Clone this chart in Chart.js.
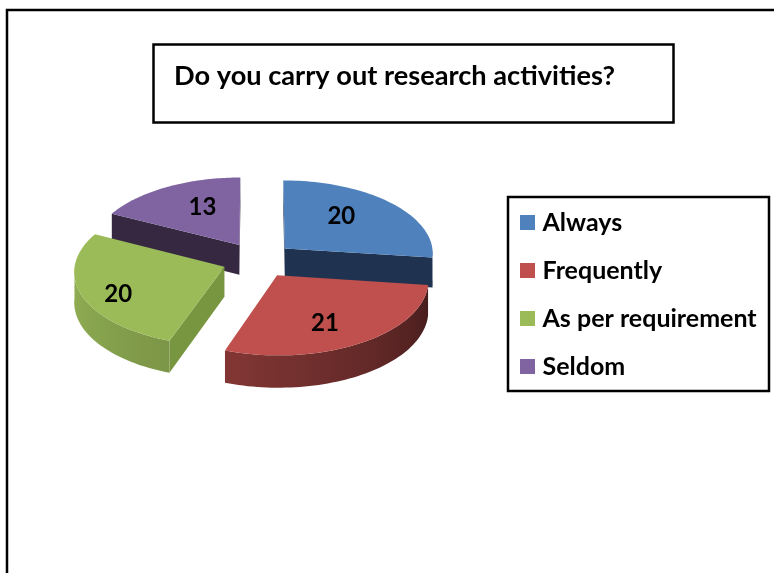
<!DOCTYPE html>
<html>
<head>
<meta charset="utf-8">
<title>Do you carry out research activities?</title>
<script src="https://cdn.jsdelivr.net/npm/chart.js@4"></script>
<style>
    html, body { margin: 0; padding: 0; background: #fff; }
    #wrap { position: relative; width: 774px; height: 573px; overflow: hidden; }
</style>
</head>
<body>
<div id="wrap"><canvas id="pie-chart" width="774" height="573"></canvas></div>
<script>
const categories = ['Always', 'Frequently', 'As per requirement', 'Seldom'];
const responses = [20, 21, 20, 13];
const chartTitle = 'Do you carry out research activities?';

const topColors = ['#4f81bd', '#c0504d', '#9bbb59', '#8064a2'];
const radialWallColors = ['#1f3350', '#7d3230', '#78953f', '#362840'];
// rim brightness at the start and end angle of each slice
const rimShades = [[0.4, 0.4], [0.36, 0.68], [0.8, 1], [0.42, 0.42]];

// where the pie sits on the page and how it is tilted
const PIE = { cx: 258, cy: 260, squash: 0.4925, perspective: 0.06, depth: 30 };
// Excel does not put the numbers on the slice bisector, so nudge them
const labelNudge = [[-13, -2], [-6, 5], [-14, 9], [11, 1]];
const FONT = 'Lato, Carlito, "Open Sans", sans-serif';

// plane coords (u right, v towards the viewer) to screen
function project(u, v, R, drop = 0) {
    const s = 1 / (1 - PIE.perspective * v / R);
    return { x: PIE.cx + u * s, y: PIE.cy + v * PIE.squash * s + drop * s };
}

function planePoint(angle, r, off, mid) {
    return {
        u: Math.cos(mid) * off + Math.cos(angle) * r,
        v: Math.sin(mid) * off + Math.sin(angle) * r
    };
}

function shade(hex, f) {
    const n = parseInt(hex.slice(1), 16);
    const c = [n >> 16, (n >> 8) & 255, n & 255].map(ch => Math.round(ch * f));
    return `rgb(${c[0]},${c[1]},${c[2]})`;
}

function fillPoly(ctx, pts, color) {
    ctx.beginPath();
    pts.forEach((p, n) => n ? ctx.lineTo(p.x, p.y) : ctx.moveTo(p.x, p.y));
    ctx.closePath();
    ctx.fillStyle = color;
    ctx.fill();
}

function drawSlice(ctx, arc, i) {
    const R = arc.outerRadius;
    const off = arc.options.offset / 4;
    const mid = (arc.startAngle + arc.endAngle) / 2;
    const steps = 60;
    const rim = [];
    for (let k = 0; k <= steps; k++) {
        const a = arc.startAngle + (arc.endAngle - arc.startAngle) * k / steps;
        const p = planePoint(a, R, off, mid);
        rim.push({ a, t: k / steps, top: project(p.u, p.v, R), low: project(p.u, p.v, R, PIE.depth) });
    }
    const c = planePoint(mid, 0, off, mid);
    const apexTop = project(c.u, c.v, R);
    const apexLow = project(c.u, c.v, R, PIE.depth);
    const inner = rim[steps / 2].top;

    // radial walls, only the ones turned to the viewer
    [rim[0], rim[steps]].forEach(e => {
        const ex = e.top.x - apexTop.x, ey = e.top.y - apexTop.y;
        const side = ex * (inner.y - apexTop.y) - ey * (inner.x - apexTop.x);
        if (side * ex < 0) {
            fillPoly(ctx, [apexTop, e.top, e.low, apexLow], radialWallColors[i]);
        }
    });

    // outer wall, one polygon with a left to right gradient
    const front = rim.filter(p => Math.sin(p.a) > 0);
    if (front.length > 1) {
        const xs = front.map(p => p.top.x);
        const x0 = Math.min(...xs), x1 = Math.max(...xs);
        const grad = ctx.createLinearGradient(x0, 0, x1, 0);
        front.forEach((p, n) => {
            if (n % 6 === 0 || n === front.length - 1) {
                const f = rimShades[i][0] + (rimShades[i][1] - rimShades[i][0]) * p.t;
                grad.addColorStop((p.top.x - x0) / (x1 - x0), shade(topColors[i], f));
            }
        });
        fillPoly(ctx, front.map(p => p.top).concat(front.map(p => p.low).reverse()), grad);
    }

    // top face
    fillPoly(ctx, [apexTop].concat(rim.map(p => p.top)), topColors[i]);
}

const pie3d = {
    id: 'pie3d',
    afterLayout(chart) {
        // title and legend live inside their own boxes
        const t = chart.titleBlock;
        t.left = 174; t.right = 660; t.top = 60; t.bottom = 100;
        const l = chart.legend;
        const w = l.right - l.left, h = l.bottom - l.top;
        l.left = 502; l.right = l.left + w;
        l.top = 187; l.bottom = l.top + h;
    },
    beforeDraw(chart) {
        const ctx = chart.ctx;
        ctx.save();
        ctx.strokeStyle = '#000';
        ctx.lineWidth = 2.5;
        ctx.strokeRect(7, 10, 800, 600);
        ctx.strokeRect(153.5, 44.5, 520, 78);
        ctx.strokeRect(508, 197, 261, 194);
        ctx.restore();
    },
    beforeDatasetDraw(chart, args) {
        const ctx = chart.ctx;
        const arcs = args.meta.data;
        // painter's order, back slices first
        ctx.save();
        [3, 0, 2, 1].forEach(i => drawSlice(ctx, arcs[i], i));

        ctx.fillStyle = '#000';
        ctx.font = 'bold 24px ' + FONT;
        ctx.textAlign = 'center';
        ctx.textBaseline = 'middle';
        arcs.forEach((arc, i) => {
            const mid = (arc.startAngle + arc.endAngle) / 2;
            const p = planePoint(mid, arc.outerRadius * 0.65, arc.options.offset / 4, mid);
            const q = project(p.u, p.v, arc.outerRadius);
            ctx.fillText(String(responses[i]), q.x + labelNudge[i][0], q.y + labelNudge[i][1]);
        });
        ctx.restore();
        return false;
    }
};

new Chart(document.getElementById('pie-chart'), {
    type: 'pie',
    data: {
        labels: categories,
        datasets: [{
            data: responses,
            backgroundColor: topColors,
            borderWidth: 0,
            offset: 144,
            radius: 149
        }]
    },
    options: {
        responsive: false,
        animation: false,
        plugins: {
            title: {
                display: true,
                text: chartTitle,
                align: 'start',
                color: '#000',
                padding: 0,
                font: { family: FONT, size: 27.2, weight: 'bold' }
            },
            legend: {
                position: 'right',
                align: 'start',
                labels: {
                    color: '#000',
                    usePointStyle: true,
                    pointStyle: 'rect',
                    boxWidth: 5,
                    boxHeight: 15,
                    padding: 23,
                    font: { family: FONT, size: 25, weight: 'bold' }
                }
            },
            tooltip: { enabled: false }
        }
    },
    plugins: [pie3d]
});
</script>
</body>
</html>
